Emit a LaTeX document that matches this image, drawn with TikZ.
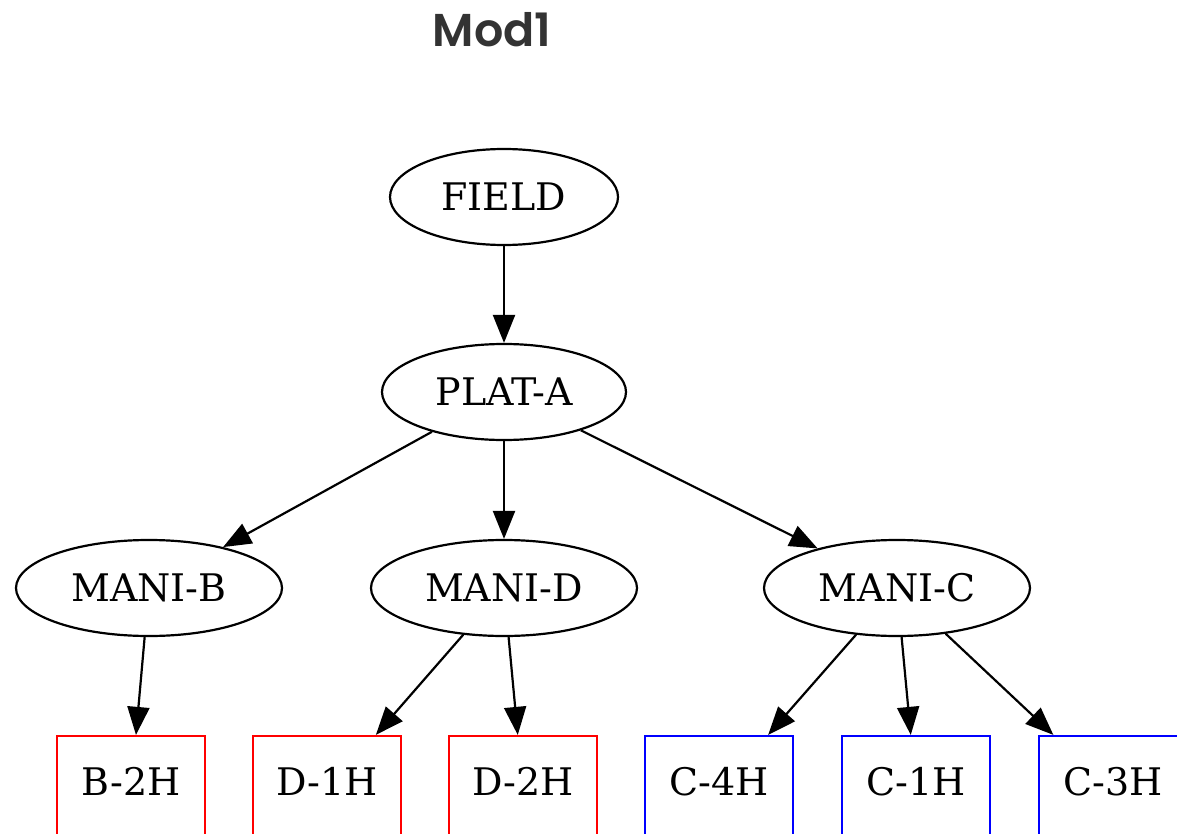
\documentclass[tikz,border=0pt]{standalone}
\usepackage{fontspec}
\setmainfont{DejaVu Serif}
\newfontfamily\titlefont{Poppins SemiBold}
\usetikzlibrary{shapes.geometric,arrows.meta}
\definecolor{titlegray}{HTML}{333333}
\tikzset{
  mani/.style={draw, ellipse, line width=1.1pt, inner sep=0pt,
    minimum width=133pt, minimum height=48pt, font=\fontsize{19}{21}\selectfont},
  well/.style={draw, rectangle, line width=1.1pt, inner sep=0pt,
    minimum width=74pt, text height=29.5pt, text depth=25.5pt,
    font=\fontsize{19}{21}\selectfont},
  flow/.style={-{Triangle[length=14pt,width=11pt]}, line width=1.1pt}
}
\begin{document}
\begin{tikzpicture}[x=0.5pt, y=-0.5pt]
  \clip (0,0) rectangle (1177,834);
  %title
  \node (title) at (492,30) {\titlefont\fontsize{23}{25}\selectfont\color{titlegray}Mod1};
  %field and platform
  \node [mani, minimum width=114pt] (field) at (504,197) {FIELD};
  \node [mani, minimum width=122pt] (plata) at (504,392) {PLAT-A};
  %manifolds
  \node [mani] (manib) at (149,588) {MANI-B};
  \node [mani] (manid) at (504,588) {MANI-D};
  \node [mani] (manic) at (897,588) {MANI-C};
  %wells
  \node [well, color=red, text=black] (b2h) at (131,791) {B-2H};
  \node [well, color=red, text=black] (d1h) at (327,791) {D-1H};
  \node [well, color=red, text=black] (d2h) at (523,791) {D-2H};
  \node [well, color=blue, text=black] (c4h) at (719,791) {C-4H};
  \node [well, color=blue, text=black] (c1h) at (916,791) {C-1H};
  \node [well, color=blue, text=black] (c3h) at (1113,791) {C-3H};
  %edges
  \draw [flow] (field) -- (plata);
  \draw [flow] (plata) -- (manib);
  \draw [flow] (plata) -- (manid);
  \draw [flow] (plata) -- (manic);
  \draw [flow] (manib) -- (b2h);
  \draw [flow] (manid) -- (d1h);
  \draw [flow] (manid) -- (d2h);
  \draw [flow] (manic) -- (c4h);
  \draw [flow] (manic) -- (c1h);
  \draw [flow] (manic) -- (c3h);
\end{tikzpicture}
\end{document}
